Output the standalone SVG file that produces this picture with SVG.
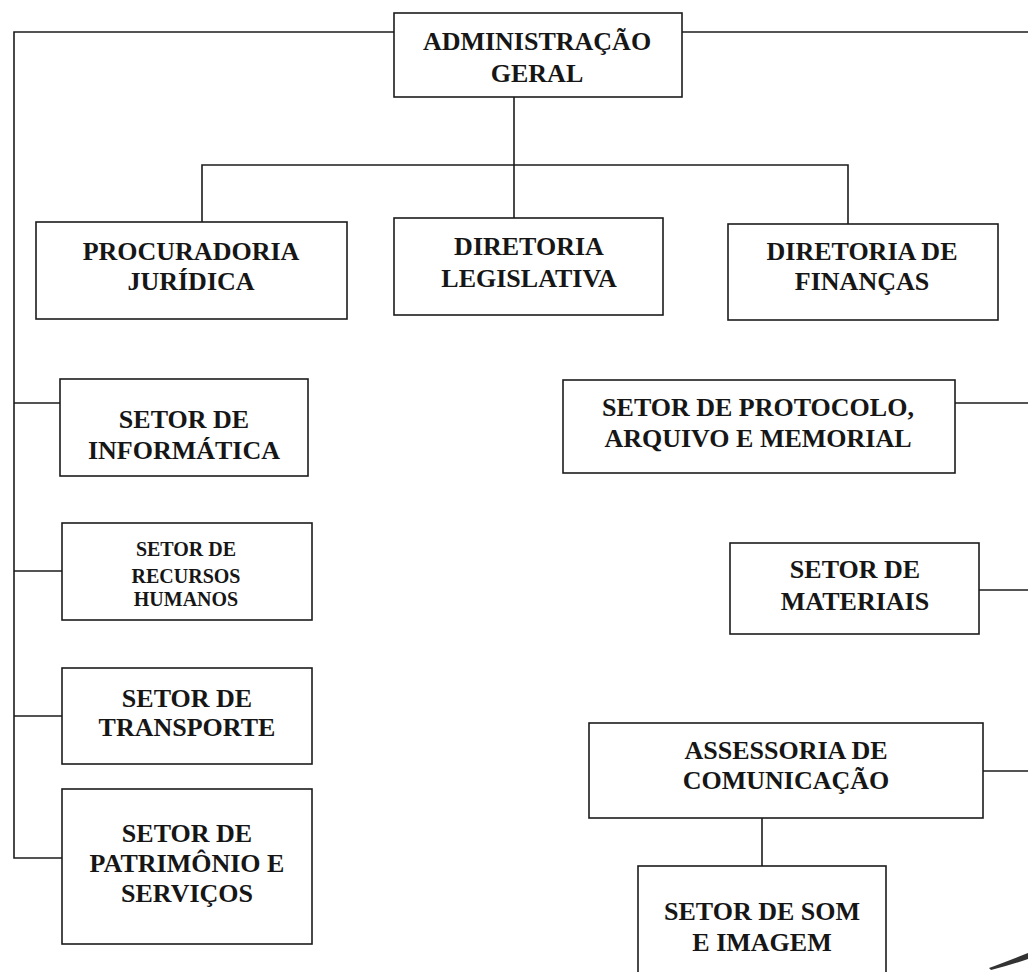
<svg xmlns="http://www.w3.org/2000/svg" width="1028" height="972" viewBox="0 0 1028 972">
<style>
.box{fill:#fff;stroke:#1c1c1c;stroke-width:1.6}
.ln{fill:none;stroke:#1c1c1c;stroke-width:1.6}
.t{font-family:"Liberation Serif","Times New Roman",serif;font-weight:bold;font-size:26px;fill:#161616;text-anchor:middle}
.s{font-size:20px}
</style>
<rect width="1028" height="972" fill="#fff"/>
<g id="connectors">
<path class="ln" d="M394,32H14V858H62"/>
<path class="ln" d="M682,32H1028"/>
<path class="ln" d="M14,403H60M14,571H62M14,716H62"/>
<path class="ln" d="M514,97V218"/>
<path class="ln" d="M202,237V165H848V237"/>
<path class="ln" d="M945,403H1028M970,590H1028M972,771H1028"/>
<path class="ln" d="M762,818V866"/>
</g>
<g id="admin">
<rect class="box" x="394" y="13" width="288" height="84"/>
<text class="t" x="537" y="50">ADMINISTRAÇÃO</text>
<text class="t" x="537" y="82">GERAL</text>
</g>
<g id="procuradoria">
<rect class="box" x="36" y="222" width="311" height="97"/>
<text class="t" x="191" y="260">PROCURADORIA</text>
<text class="t" x="191" y="290">JURÍDICA</text>
</g>
<g id="legislativa">
<rect class="box" x="394" y="218" width="269" height="97"/>
<text class="t" x="529" y="255">DIRETORIA</text>
<text class="t" x="529" y="287">LEGISLATIVA</text>
</g>
<g id="financas">
<rect class="box" x="728" y="224" width="270" height="96"/>
<text class="t" x="862" y="260">DIRETORIA DE</text>
<text class="t" x="862" y="290">FINANÇAS</text>
</g>
<g id="informatica">
<rect class="box" x="60" y="379" width="248" height="97"/>
<text class="t" x="184" y="428">SETOR DE</text>
<text class="t" x="184" y="459">INFORMÁTICA</text>
</g>
<g id="rh">
<rect class="box" x="62" y="523" width="250" height="97"/>
<text class="t s" x="186" y="556">SETOR DE</text>
<text class="t s" x="186" y="583">RECURSOS</text>
<text class="t s" x="186" y="606">HUMANOS</text>
</g>
<g id="transporte">
<rect class="box" x="62" y="668" width="250" height="96"/>
<text class="t" x="187" y="707">SETOR DE</text>
<text class="t" x="187" y="736">TRANSPORTE</text>
</g>
<g id="patrimonio">
<rect class="box" x="62" y="789" width="250" height="155"/>
<text class="t" x="187" y="842">SETOR DE</text>
<text class="t" x="187" y="872">PATRIMÔNIO E</text>
<text class="t" x="187" y="902">SERVIÇOS</text>
</g>
<g id="protocolo">
<rect class="box" x="563" y="380" width="392" height="93"/>
<text class="t" x="758" y="416">SETOR DE PROTOCOLO,</text>
<text class="t" x="758" y="447">ARQUIVO E MEMORIAL</text>
</g>
<g id="materiais">
<rect class="box" x="730" y="543" width="249" height="91"/>
<text class="t" x="855" y="578">SETOR DE</text>
<text class="t" x="855" y="610">MATERIAIS</text>
</g>
<g id="assessoria">
<rect class="box" x="589" y="723" width="394" height="95"/>
<text class="t" x="786" y="759">ASSESSORIA DE</text>
<text class="t" x="786" y="789">COMUNICAÇÃO</text>
</g>
<g id="som">
<rect class="box" x="638" y="866" width="248" height="130"/>
<text class="t" x="762" y="920">SETOR DE SOM</text>
<text class="t" x="762" y="951">E IMAGEM</text>
</g>
<path d="M989,968 Q1005,962 1028,953 L1028,959 Q1008,966 991,970 Z" fill="#333"/>
</svg>
